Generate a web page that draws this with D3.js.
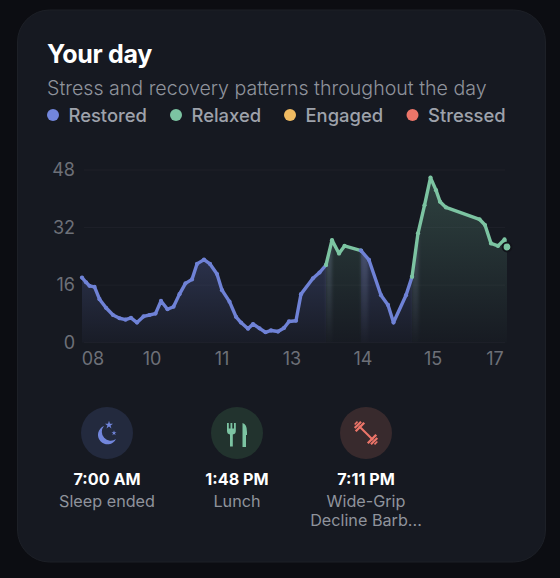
<!DOCTYPE html>
<html>
<head>
<meta charset="utf-8">
<script src="https://cdn.jsdelivr.net/npm/d3@7"></script>
<style>
  html, body { margin: 0; padding: 0; background: #0c0d12; }
  svg { display: block; }
  text { font-family: Inter, "Noto Sans", sans-serif; }
</style>
</head>
<body>
<svg id="chart" width="560" height="578"></svg>
<script>
// values (hours on the chart's time axis, stress level)
const hours = [7.79, 7.87, 7.94, 8.04, 8.14, 8.27, 8.41, 8.54, 8.66, 8.77, 8.89, 9.02, 9.14, 9.26, 9.37, 9.50, 9.62, 9.74, 9.86, 9.99,
  10.09, 10.23, 10.35, 10.49, 10.59, 10.74, 10.87, 10.97, 11.11, 11.21, 11.34, 11.46, 11.57, 11.71, 11.83, 11.93, 12.07, 12.17, 12.41, 12.54,
  12.67, 12.79, 12.93, 13.04, 13.37, 13.53, 13.77, 13.91, 14.02, 14.27, 14.39, 14.51, 14.64, 14.76, 14.87, 14.95, 15.07, 15.74, 15.85, 15.97,
  16.11, 16.24, 16.29];
const stress = [18.1, 16.8, 15.8, 15.5, 12.1, 9.7, 7.7, 6.8, 6.4, 6.9, 5.6, 7.3, 7.7, 8.1, 11.6, 9.3, 10, 13.5, 16.5, 17.6,
  21.9, 23.1, 21.9, 19.1, 14.6, 11.4, 7.2, 5.6, 3.9, 5.2, 4, 2.9, 3.4, 3.1, 4.1, 5.9, 6.1, 13.5, 17.9, 19.5,
  21.6, 28.5, 24.8, 26.9, 25.6, 23, 13.2, 10.5, 5.6, 13.2, 18.3, 30.4, 38.2, 45.9, 42.4, 39.2, 37.6, 34.3, 32.7, 27.6,
  26.9, 28.7, 26.6];

// phases: [start hour, end hour, zone]
const phases = [[7.79, 12.67, "restored"], [12.67, 13.37, "relaxed"], [13.37, 14.39, "restored"], [14.39, 16.29, "relaxed"]];
// short washed out stretches where the zone changes
const bands = [[12.67, 12.79], [13.37, 13.51], [14.39, 14.52]];

const yTicks = [0, 16, 32, 48];
const xTickHours = [8, 9.18, 10.58, 11.98, 13.4, 14.8, 16.04];
const xTickLabels = ["08", "10", "11", "13", "14", "15", "17"];

const legendNames = ["Restored", "Relaxed", "Engaged", "Stressed"];
const legendColors = ["#7286dc", "#7cc4a2", "#f0bb62", "#ec7569"];

const eventTimes = ["7:00 AM", "1:48 PM", "7:11 PM"];
const eventLabels = [["Sleep ended"], ["Lunch"], ["Wide-Grip", "Decline Barb..."]];
const eventColors = ["#7286dc", "#7cc4a2", "#ec7569"];
const eventBacks = ["#232a3e", "#22332e", "#382a2d"];

const zoneColor = { restored: "#6f82d6", relaxed: "#7cc4a2" };

const points = hours.map((h, i) => ({ h: h, v: stress[i] }));
const svg = d3.select("#chart");

// card
svg.append("rect")
  .attr("x", 17.5).attr("y", 10)
  .attr("width", 528).attr("height", 552)
  .attr("rx", 32)
  .attr("fill", "#161921")
  .attr("stroke", "#1d2027");

svg.append("text").text("Your day")
  .attr("x", 47).attr("y", 63)
  .attr("fill", "#ffffff").attr("font-size", 25).attr("font-weight", 700)
  .attr("letter-spacing", -0.3);

svg.append("text").text("Stress and recovery patterns throughout the day")
  .attr("x", 47).attr("y", 95)
  .attr("fill", "#8f939c").attr("font-size", 19.6).attr("font-weight", 300);

// legend
const legendX = [53, 176, 290, 412.5];
const legend = svg.selectAll(".legend").data(legendNames).enter()
  .append("g")
  .attr("class", "legend")
  .attr("transform", (d, i) => `translate(${legendX[i]},115)`);
legend.append("circle").attr("r", 6).attr("fill", (d, i) => legendColors[i]);
legend.append("text").text(d => d)
  .attr("x", 15.5).attr("y", 6.5)
  .attr("fill", "#9ea2ab").attr("font-size", 18.4).attr("font-weight", 500);

// scales
const x = d3.scaleLinear().domain([7.79, 16.29]).range([82, 507]);
const y = d3.scaleLinear().domain([0, 48]).range([342.7, 170]);

const defs = svg.append("defs");

function addGradient(id, color, topValue, topOpacity, bottomOpacity) {
  const g = defs.append("linearGradient")
    .attr("id", id)
    .attr("gradientUnits", "userSpaceOnUse")
    .attr("x1", 0).attr("x2", 0)
    .attr("y1", y(topValue)).attr("y2", y(0));
  g.append("stop").attr("offset", 0).attr("stop-color", color).attr("stop-opacity", topOpacity);
  g.append("stop").attr("offset", 1).attr("stop-color", color).attr("stop-opacity", bottomOpacity);
}
addGradient("fill-restored", "#6f82d6", 24, 0.24, 0.03);
addGradient("fill-relaxed", "#7cc4a2", 46, 0.24, 0.01);
addGradient("fill-band", "#9fb0d4", 24, 0.22, 0.01);

defs.append("filter").attr("id", "soft")
  .attr("x", "-100%").attr("width", "300%")
  .append("feGaussianBlur").attr("stdDeviation", "1.5 0");

// gridlines
svg.selectAll(".grid").data(yTicks).enter()
  .append("line")
  .attr("class", "grid")
  .attr("x1", 84).attr("x2", 505)
  .attr("y1", d => y(d)).attr("y2", d => y(d))
  .attr("stroke", "#1e2129").attr("stroke-width", 1);

// axes
const yAxis = d3.axisLeft(y).tickValues(yTicks).tickSize(0).tickPadding(0);
const yG = svg.append("g").attr("transform", "translate(75,0)").call(yAxis);
const xAxis = d3.axisBottom(x).tickValues(xTickHours).tickFormat((d, i) => xTickLabels[i]).tickSize(0).tickPadding(0);
const xG = svg.append("g").attr("transform", "translate(0,352)").call(xAxis);
[yG, xG].forEach(g => {
  g.select(".domain").remove();
  g.selectAll("text")
    .attr("fill", "#6d7078")
    .attr("font-size", 18)
    .style("font-family", "Inter");
});

// areas, each clipped to the hours it covers
const area = d3.area().x(d => x(d.h)).y0(y(0)).y1(d => y(d.v));

function addRange(name, from, to, fill, soft) {
  defs.append("clipPath").attr("id", name)
    .append("rect")
    .attr("x", x(from)).attr("width", x(to) - x(from))
    .attr("y", y(48)).attr("height", y(0) - y(48));
  const holder = svg.append("g");
  if (soft) holder.attr("filter", "url(#soft)");
  holder.append("path")
    .datum(points)
    .attr("d", area)
    .attr("fill", fill)
    .attr("clip-path", `url(#${name})`);
}
phases.forEach((p, i) => addRange("phase-" + i, p[0], p[1], `url(#fill-${p[2]})`, false));
bands.forEach((b, i) => addRange("band-" + i, b[0], b[1], "url(#fill-band)", true));

// line, one piece per phase
const line = d3.line().x(d => x(d.h)).y(d => y(d.v));
phases.forEach(p => {
  const part = points.filter(d => d.h >= p[0] && d.h <= p[1]);
  svg.append("path")
    .datum(part)
    .attr("d", line)
    .attr("fill", "none")
    .attr("stroke", zoneColor[p[2]])
    .attr("stroke-width", 3.4)
    .attr("stroke-linejoin", "round")
    .attr("stroke-linecap", "round");
  svg.selectAll(null).data(part).enter()
    .append("circle")
    .attr("cx", d => x(d.h)).attr("cy", d => y(d.v))
    .attr("r", 2.1)
    .attr("fill", zoneColor[p[2]]);
});

// end marker
const last = points[points.length - 1];
svg.append("circle")
  .attr("cx", x(last.h)).attr("cy", y(last.v))
  .attr("r", 4.4)
  .attr("fill", "#7cc4a2")
  .attr("stroke", "#12141a").attr("stroke-width", 2);

// events
const eventX = [107, 237, 366];
const events = svg.selectAll(".event").data(eventTimes).enter()
  .append("g")
  .attr("class", "event")
  .attr("transform", (d, i) => `translate(${eventX[i]},433)`);
events.append("circle").attr("r", 26).attr("fill", (d, i) => eventBacks[i]);
events.append("text").text(d => d)
  .attr("y", 52).attr("text-anchor", "middle")
  .attr("fill", "#ffffff").attr("font-size", 16.2).attr("font-weight", 700);
events.each(function (d, i) {
  d3.select(this).selectAll(".sub").data(eventLabels[i]).enter()
    .append("text")
    .attr("class", "sub")
    .text(t => t)
    .attr("y", (t, j) => 73.5 + j * 19.5)
    .attr("text-anchor", "middle")
    .attr("fill", "#8f939c").attr("font-size", 16.2).attr("font-weight", 400);
});

// moon and stars
const moon = events.filter((d, i) => i === 0).append("g").attr("fill", eventColors[0]);
moon.append("path").attr("d", "M-3,-7 A9.5,9.5 0 1 0 9,6 A8.9,8.9 0 0 1 -3,-7 Z");
moon.append("path").attr("d", d3.symbol(d3.symbolStar, 20)()).attr("transform", "translate(2,-8)");
moon.append("path").attr("d", d3.symbol(d3.symbolStar, 8)()).attr("transform", "translate(7,0)");

// fork and knife
const food = events.filter((d, i) => i === 1).append("g").attr("fill", eventColors[1]);
food.append("path").attr("d", "M-10,-10 h1.8 v5.5 h1.7 v-5.5 h1.8 v5.5 h1.7 v-5.5 h1.8 v8 q0,3 -3,3.5 v12 h-2.8 v-12 q-3,-.5 -3,-3.5 Z");
food.append("path").attr("d", "M5.5,-10 q4.5,1 4.5,9 v3 h-1 v12 h-3.5 Z");

// dumbbell
const gym = events.filter((d, i) => i === 2).append("g").attr("fill", eventColors[2]).attr("transform", "rotate(45)");
gym.append("rect").attr("x", -10).attr("y", -1).attr("width", 20).attr("height", 2);
[-1, 1].forEach(s => {
  gym.append("rect").attr("x", s * 8.5 - 1.2).attr("y", -6).attr("width", 2.4).attr("height", 12);
  gym.append("rect").attr("x", s * 11.5 - 1.1).attr("y", -4.5).attr("width", 2.2).attr("height", 9);
  gym.append("rect").attr("x", s * 14 - 0.8).attr("y", -2).attr("width", 1.6).attr("height", 4);
});
</script>
</body>
</html>
